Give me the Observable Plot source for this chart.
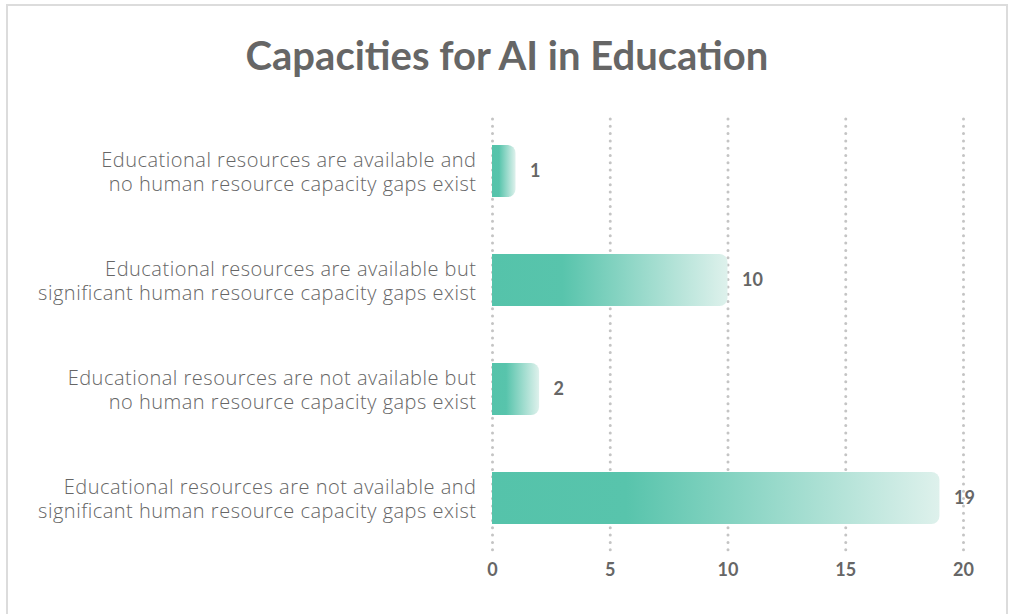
<!DOCTYPE html>
<html>
<head>
<meta charset="utf-8">
<script src="https://cdn.jsdelivr.net/npm/d3@7"></script>
<script src="https://cdn.jsdelivr.net/npm/@observablehq/plot@0.6"></script>
<style>
  html, body { margin: 0; padding: 0; background: #fff; }
  #frame {
    position: absolute; left: 6px; top: 4px; width: 1002px; height: 640px;
    box-sizing: border-box; border: 2px solid #dcdcdc; background: #fff;
  }
  #title {
    height: 100px; box-sizing: border-box; padding-top: 29px;
    text-align: center; font-family: Lato, sans-serif; font-weight: 700;
    font-size: 40px; color: #666; line-height: 1;
  }
  g[aria-label="y-axis tick label"] { letter-spacing: 0.5px; }
</style>
</head>
<body>
<div id="frame">
  <div id="title">Capacities for AI in Education</div>
  <div id="chart"></div>
</div>
<script>
const categories = [
  "Educational resources are available and\nno human resource capacity gaps exist",
  "Educational resources are available but\nsignificant human resource capacity gaps exist",
  "Educational resources are not available but\nno human resource capacity gaps exist",
  "Educational resources are not available and\nsignificant human resource capacity gaps exist"
];
const values = [1, 10, 2, 19];
const xTicks = [0, 5, 10, 15, 20];

const data = categories.map((c, i) => ({category: c, value: values[i]}));

const defs = () => {
  const g = d3.create("svg:defs");
  const lg = g.append("linearGradient").attr("id", "barGrad")
    .attr("x1", 0).attr("x2", 1).attr("y1", 0).attr("y2", 0);
  lg.append("stop").attr("offset", "0%").attr("stop-color", "#55c3aa");
  lg.append("stop").attr("offset", "30%").attr("stop-color", "#58c4ac");
  lg.append("stop").attr("offset", "100%").attr("stop-color", "#def1ec");
  return g.node();
};

const chart = Plot.plot({
  width: 998,
  height: 495,
  marginTop: 13,
  marginBottom: 50,
  marginLeft: 484,
  marginRight: 43,
  style: {fontFamily: "Lato, sans-serif", color: "#666", background: "transparent"},
  x: {domain: [0, 20], label: null},
  y: {domain: categories, paddingInner: 0.52, paddingOuter: 0.236, label: null},
  marks: [
    defs,
    Plot.gridX(xTicks, {stroke: "#c4c4c4", strokeOpacity: 1, strokeWidth: 3, strokeDasharray: "0 7.3", strokeLinecap: "round"}),
    Plot.barX(data, {x: "value", y: "category", fill: "url(#barGrad)", rx2: 8}),
    Plot.text(data, {x: "value", y: "category", text: d => String(d.value), textAnchor: "start", dx: 14, fontSize: 18, fontWeight: 700, fill: "#666"}),
    Plot.axisX(xTicks, {tickSize: 0, tickPadding: 12, fontSize: 18, fontWeight: 700, fill: "#666", label: null}),
    Plot.axisY({tickSize: 0, tickPadding: 16, fontSize: 20, fontWeight: 300, lineHeight: 1.2, fill: "#666", fontFamily: "'Open Sans', sans-serif", label: null})
  ]
});
document.getElementById("chart").appendChild(chart);
</script>
</body>
</html>
